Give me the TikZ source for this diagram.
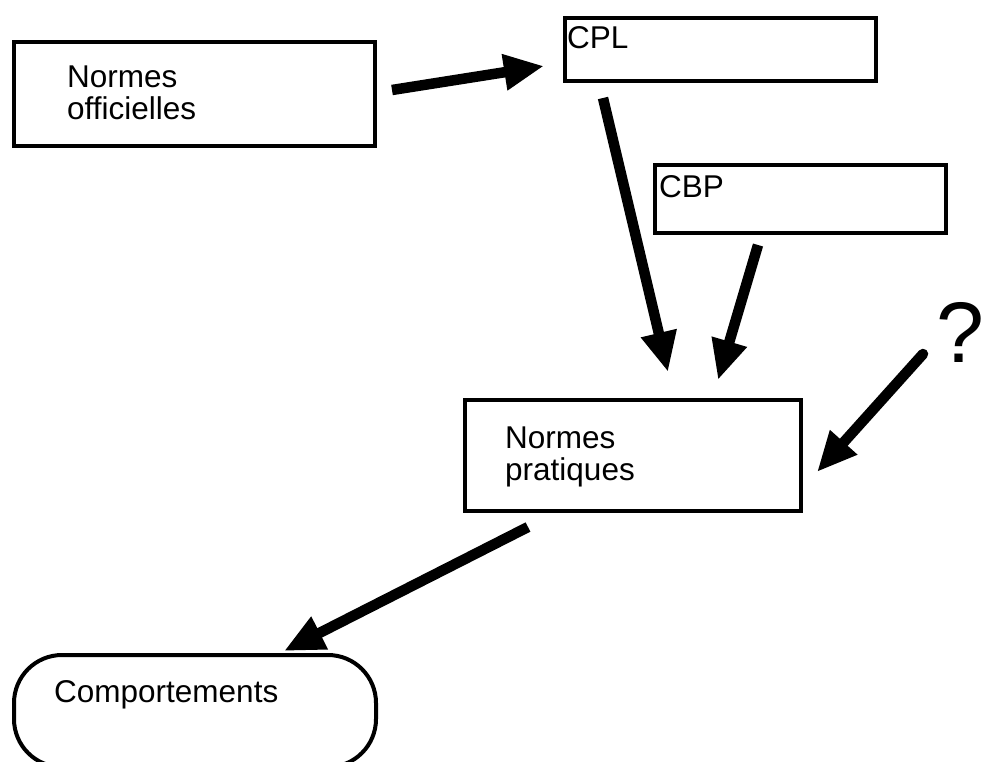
\documentclass[tikz,border=0pt]{standalone}
\usepackage{fontspec}
\setmainfont{Liberation Sans}
\usetikzlibrary{arrows.meta}
\begin{document}
\begin{tikzpicture}[x=1pt,y=-1pt,
  box/.style={draw, line width=4pt, rectangle, inner sep=0pt},
  lbl/.style={anchor=base west, inner sep=0pt, font=\fontsize{31.5}{32}\selectfont},
  conn/.style={line width=10.5pt, -{Triangle[length=40pt,width=34pt]}}]
\useasboundingbox (0,0) rectangle (985,761);
% boxes
\node[box, minimum width=361pt, minimum height=104pt] (off) at (194.5,94) {};
\node[box, minimum width=311pt, minimum height=63pt] (cpl) at (720.5,49.5) {};
\node[box, minimum width=291pt, minimum height=68pt] (cbp) at (800.5,199) {};
\node[box, minimum width=336pt, minimum height=111pt] (prat) at (633,455.5) {};
\node[box, rounded corners=48pt, minimum width=362pt, minimum height=112pt] (comp) at (195,711) {};
% labels
\node[lbl] (offa) at (67,87) {Normes};
\node[lbl] (offb) at (67,119) {officielles};
\node[lbl] (cplt) at (567,48) {CPL};
\node[lbl] (cbpt) at (659,197) {CBP};
\node[lbl] (prata) at (505,448) {Normes};
\node[lbl] (pratb) at (505,480) {pratiques};
\node[lbl] (compt) at (54,702) {Comportements};
\node[anchor=base east, inner sep=0pt, font=\fontsize{86}{86}\selectfont] (q) at (985,362) {?};
% arrow end points
\coordinate (a1s) at (392,90);  \coordinate (a1e) at (544,66);
\coordinate (a2s) at (603,98);  \coordinate (a2e) at (668,372);
\coordinate (a3s) at (758,245); \coordinate (a3e) at (718,380);
\coordinate (a4s) at (923,354); \coordinate (a4e) at (817,472);
\coordinate (a5s) at (528,527); \coordinate (a5e) at (284,651);
\draw[conn] (a1s) -- (a1e);
\draw[conn] (a2s) -- (a2e);
\draw[conn] (a3s) -- (a3e);
\draw[conn, line cap=round] (a4s) -- (a4e);
\draw[conn] (a5s) -- (a5e);
\end{tikzpicture}
\end{document}
